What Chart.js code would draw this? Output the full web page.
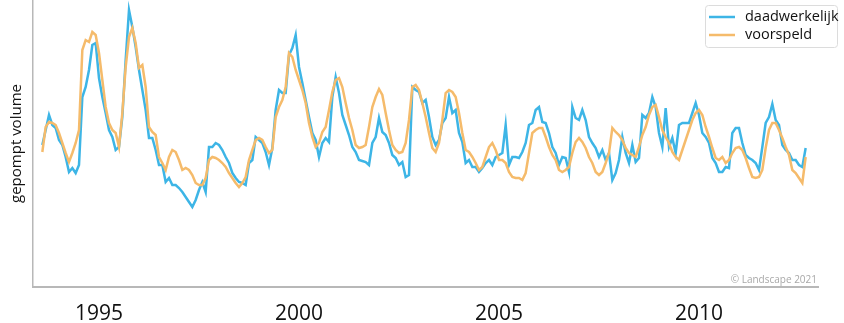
<!DOCTYPE html>
<html>
<head>
<meta charset="utf-8">
<script src="https://cdn.jsdelivr.net/npm/chart.js@4.4.1/dist/chart.umd.min.js"></script>
<style>
  html, body { margin: 0; padding: 0; background: #fff; }
  #wrap { width: 844px; height: 323px; }
</style>
</head>
<body>
<div id="wrap"><canvas id="volumeChart" width="844" height="323"></canvas></div>
<script>
// monthly series, first month aug 1993
const startYear = 1993 + 7 / 12;
const tickYears = [1995, 2000, 2005, 2010];
const seriesLabels = ['daadwerkelijk', 'voorspeld'];
const seriesColors = ['#3db5e6', '#f5bb6b'];

const actual = [
  142, 157, 172, 162, 159, 147, 142, 130, 115, 119, 114, 122, 190, 200, 217, 242, 244, 209, 190, 174, 157, 150, 137, 140, 170, 227, 277, 260,
  240, 217, 197, 177, 149, 149, 137, 122, 122, 105, 109, 102, 102, 99, 95, 90, 85, 80, 87, 97, 105, 95, 140, 140, 144, 142, 137, 130,
  124, 114, 109, 105, 104, 102, 124, 127, 150, 147, 144, 135, 122, 139, 177, 197, 194, 194, 232, 239, 252, 220, 204, 187, 170, 154, 147, 130, 144,
  149, 145, 190, 210, 194, 172, 162, 152, 140, 135, 127, 126, 125, 122, 144, 150, 169, 155, 152, 144, 132, 129, 122, 125, 110, 112, 200, 197, 195,
  184, 187, 170, 150, 142, 147, 164, 169, 190, 174, 177, 154, 145, 124, 127, 120, 120, 115, 119, 124, 127, 122, 130, 132, 134, 162, 122, 130,
  130, 129, 135, 144, 162, 164, 177, 180, 165, 164, 154, 140, 134, 122, 130, 129, 115, 180, 169, 167, 177, 167, 150, 144, 139, 130, 137, 127, 134,
  107, 114, 127, 150, 134, 124, 142, 125, 129, 172, 169, 174, 190, 180, 154, 140, 179, 140, 149, 134, 162, 164, 164, 164, 174, 184, 172, 154,
  150, 144, 129, 124, 115, 115, 120, 119, 154, 159, 159, 144, 132, 129, 127, 124, 117, 140, 164, 170, 183, 167, 162, 142, 137, 134, 127, 127, 122, 120, 139
];

const forecast = [
  135, 160, 165, 164, 162, 154, 144, 134, 125, 134, 144, 157, 237, 247, 245, 255, 252, 234, 207, 180, 164, 157, 154, 140, 174, 220, 250, 259,
  244, 219, 222, 200, 160, 155, 152, 130, 124, 117, 130, 137, 135, 127, 117, 119, 117, 112, 104, 102, 102, 109, 127, 130, 129, 127, 124, 120,
  114, 109, 104, 100, 104, 110, 127, 137, 147, 149, 147, 140, 134, 137, 170, 180, 187, 200, 234, 230, 217, 207, 197, 184, 164, 150, 140, 144, 155,
  160, 177, 195, 207, 209, 200, 184, 169, 157, 142, 139, 140, 142, 160, 180, 190, 198, 192, 174, 157, 142, 137, 134, 135, 144, 167, 200, 202, 197,
  184, 170, 154, 139, 135, 144, 167, 194, 197, 195, 190, 174, 154, 137, 135, 130, 124, 117, 120, 130, 140, 144, 137, 127, 127, 124, 115, 110,
  109, 109, 107, 114, 134, 154, 157, 159, 159, 150, 140, 132, 127, 117, 115, 117, 120, 134, 145, 149, 145, 139, 130, 124, 115, 112, 115, 124, 134,
  159, 155, 152, 147, 139, 134, 132, 130, 140, 152, 160, 172, 180, 182, 170, 157, 150, 144, 135, 130, 127, 137, 147, 157, 167, 174, 177, 172,
  160, 150, 139, 129, 127, 130, 124, 127, 134, 139, 140, 137, 129, 119, 110, 109, 110, 117, 139, 157, 164, 164, 157, 149, 140, 132, 117, 114, 109, 104, 130
];

const toPoints = values => values.map((v, i) => ({ x: startYear + i / 12, y: v }));

const legendBox = {
  id: 'legendBox',
  afterDraw(chart) {
    const ctx = chart.ctx;
    const x = 705, y = 5, w = 132, h = 42;
    ctx.save();
    ctx.fillStyle = 'rgba(255,255,255,0.85)';
    ctx.strokeStyle = '#dcdcdc';
    ctx.lineWidth = 1;
    ctx.beginPath();
    ctx.roundRect(x + 0.5, y + 0.5, w, h, 3);
    ctx.fill();
    ctx.stroke();
    ctx.font = '14.5px "Open Sans"';
    ctx.textBaseline = 'middle';
    chart.data.datasets.forEach((ds, i) => {
      const rowY = y + 12 + i * 18;
      ctx.strokeStyle = ds.borderColor;
      ctx.lineWidth = 2.5;
      ctx.beginPath();
      ctx.moveTo(x + 4, rowY);
      ctx.lineTo(x + 30, rowY);
      ctx.stroke();
      ctx.fillStyle = '#111';
      ctx.fillText(ds.label, x + 40, rowY);
    });
    ctx.restore();
  }
};

const footer = {
  id: 'footer',
  afterDraw(chart) {
    const { ctx, chartArea } = chart;
    ctx.save();
    ctx.font = '10px "Open Sans"';
    ctx.fillStyle = '#a8a8a8';
    ctx.textAlign = 'right';
    ctx.textBaseline = 'alphabetic';
    ctx.fillText('© Landscape 2021', chartArea.right - 1, chartArea.bottom - 4);
    ctx.restore();
  }
};

new Chart(document.getElementById('volumeChart').getContext('2d'), {
  type: 'line',
  data: {
    datasets: [
      {
        label: seriesLabels[0],
        data: toPoints(actual),
        borderColor: seriesColors[0],
        borderWidth: 2.5,
        pointRadius: 0,
        tension: 0,
        order: 1
      },
      {
        label: seriesLabels[1],
        data: toPoints(forecast),
        borderColor: seriesColors[1],
        borderWidth: 2.5,
        pointRadius: 0,
        tension: 0,
        order: 0
      }
    ]
  },
  options: {
    responsive: false,
    animation: false,
    layout: { padding: { top: 0, right: 26, bottom: 0, left: 0 } },
    plugins: {
      legend: { display: false },
      tooltip: { enabled: false }
    },
    scales: {
      x: {
        type: 'linear',
        min: 1993.35,
        max: 2012.975,
        afterBuildTicks: scale => { scale.ticks = tickYears.map(v => ({ value: v })); },
        afterFit: scale => { scale.height = 36; },
        grid: { display: false },
        border: { color: '#b8b8b8', width: 2 },
        ticks: {
          color: '#111',
          padding: 6,
          maxRotation: 0,
          font: { family: 'Open Sans', size: 21 },
          callback: v => String(v)
        }
      },
      y: {
        min: 0,
        max: 287,
        afterFit: scale => { scale.width = 33; },
        grid: { display: false },
        border: { color: '#b8b8b8', width: 1.5 },
        ticks: { display: false },
        title: {
          display: true,
          text: 'gepompt volume',
          color: '#111',
          padding: { top: 8, bottom: 0 },
          font: { family: 'Open Sans', size: 15 }
        }
      }
    }
  },
  plugins: [legendBox, footer]
});
</script>
</body>
</html>
